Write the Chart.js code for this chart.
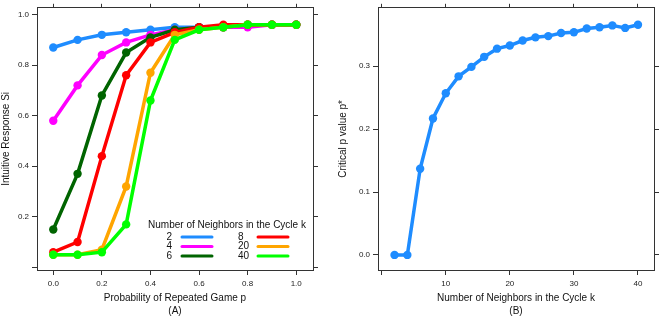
<!DOCTYPE html>
<html>
<head>
<meta charset="utf-8">
<script src="https://cdn.jsdelivr.net/npm/chart.js@4/dist/chart.umd.min.js"></script>
<style>
  html, body { margin: 0; padding: 0; background: #fff; }
  #wrap { position: relative; width: 660px; height: 316px; }
  .cv { position: absolute; top: 0; width: 330px; height: 316px; }
</style>
</head>
<body>
<div id="wrap">
  <div class="cv" style="left:0"><canvas id="chartA" width="330" height="316"></canvas></div>
  <div class="cv" style="left:330px"><canvas id="chartB" width="330" height="316"></canvas></div>
</div>
<script>
// ---- Panel (A) data ----
const pValues = [0.0, 0.1, 0.2, 0.3, 0.4, 0.5, 0.6, 0.7, 0.8, 0.9, 1.0];
const neighborLabels = ['2', '4', '6', '8', '20', '40'];
const seriesK2  = [0.87, 0.90, 0.92, 0.93, 0.94, 0.95, 0.95, 0.95, 0.96, 0.96, 0.96];
const seriesK4  = [0.58, 0.72, 0.84, 0.89, 0.92, 0.94, 0.95, 0.95, 0.95, 0.96, 0.96];
const seriesK6  = [0.15, 0.37, 0.68, 0.85, 0.91, 0.94, 0.95, 0.95, 0.96, 0.96, 0.96];
const seriesK8  = [0.06, 0.10, 0.44, 0.76, 0.89, 0.93, 0.95, 0.96, 0.96, 0.96, 0.96];
const seriesK20 = [0.05, 0.05, 0.07, 0.32, 0.77, 0.92, 0.94, 0.95, 0.96, 0.96, 0.96];
const seriesK40 = [0.05, 0.05, 0.06, 0.17, 0.66, 0.90, 0.94, 0.95, 0.96, 0.96, 0.96];
const xTicksA = [0, 0.2, 0.4, 0.6, 0.8, 1.0];
const yTicksA = [0, 0.2, 0.4, 0.6, 0.8, 1.0];

// ---- Panel (B) data ----
const kValues = [2, 4, 6, 8, 10, 12, 14, 16, 18, 20, 22, 24, 26, 28, 30, 32, 34, 36, 38, 40];
const criticalP = [0.0, 0.0, 0.137, 0.217, 0.257, 0.284, 0.299, 0.315, 0.328, 0.333,
                   0.341, 0.346, 0.348, 0.353, 0.354, 0.360, 0.362, 0.365, 0.361, 0.366];
const xTicksB = [0, 10, 20, 30, 40];
const yTicksB = [0, 0.1, 0.2, 0.3];

const colors = ['#1E8CFF', '#FF00FF', '#006400', '#FF0000', '#FFA500', '#00FF00'];
const FONT = '"Liberation Sans", Arial, Helvetica, sans-serif';
const AXIS = '#333333';

function toPts(xs, ys) { return xs.map((x, i) => ({ x: x, y: ys[i] })); }

function setTicks(list) {
  return function (scale) { scale.ticks = list.map(v => ({ value: v })); };
}

function makeScales(cfg) {
  const tickFont = { family: FONT, size: 8 };
  const titleFont = { family: FONT, size: 10, lineHeight: 1.3 };
  const gridCommon = { drawOnChartArea: false, drawTicks: true, tickLength: 5, color: AXIS, lineWidth: 1 };
  return {
    x: {
      type: 'linear', position: 'bottom', min: cfg.xmin, max: cfg.xmax,
      afterBuildTicks: setTicks(cfg.xticks),
      afterFit: s => { s.height = cfg.bottom; },
      grid: gridCommon,
      border: { display: true, color: AXIS, width: 1 },
      ticks: { font: tickFont, color: '#222', padding: 4, maxRotation: 0, autoSkip: false,
               callback: cfg.xfmt },
      title: { display: true, text: cfg.xtitle, font: titleFont, color: '#111', padding: { top: 0, bottom: -1.5 } }
    },
    x2: {
      type: 'linear', position: 'top', min: cfg.xmin, max: cfg.xmax,
      afterBuildTicks: setTicks(cfg.xticks),
      afterFit: s => { s.height = 4; },
      grid: Object.assign({}, gridCommon, { tickLength: 4 }),
      border: { display: true, color: AXIS, width: 1 },
      ticks: { display: false }
    },
    y: {
      type: 'linear', position: 'left', min: cfg.ymin, max: cfg.ymax,
      afterBuildTicks: setTicks(cfg.yticks),
      afterFit: s => { s.width = cfg.left; },
      grid: gridCommon,
      border: { display: true, color: AXIS, width: 1 },
      ticks: { font: tickFont, color: '#222', padding: 3, autoSkip: false, callback: cfg.yfmt },
      title: { display: true, text: cfg.ytitle, font: titleFont, color: '#111', padding: { top: cfg.ytitlePad, bottom: 0 } }
    },
    y2: {
      type: 'linear', position: 'right', min: cfg.ymin, max: cfg.ymax,
      afterBuildTicks: setTicks(cfg.yticks),
      afterFit: s => { s.width = cfg.right; },
      grid: gridCommon,
      border: { display: true, color: AXIS, width: 1 },
      ticks: { display: false }
    }
  };
}

// Legend drawn inside panel A
const legendPlugin = {
  id: 'innerLegend',
  afterDatasetsDraw(chart) {
    const ctx = chart.ctx;
    ctx.save();
    ctx.fillStyle = '#111';
    ctx.font = '10px ' + FONT;
    ctx.textBaseline = 'middle';
    ctx.textAlign = 'center';
    ctx.fillText('Number of Neighbors in the Cycle k', 227, 225);
    ctx.textAlign = 'left';
    const rows = [237, 246.5, 256];
    const cols = [{ lx: 166.5, sx: 182, ex: 212 }, { lx: 238, sx: 258, ex: 288 }];
    neighborLabels.forEach((lab, i) => {
      const c = cols[Math.floor(i / 3)];
      const y = rows[i % 3];
      ctx.fillStyle = '#111';
      ctx.fillText(lab, c.lx, y);
      ctx.strokeStyle = colors[i];
      ctx.lineWidth = 3;
      ctx.lineCap = 'round';
      ctx.beginPath();
      ctx.moveTo(c.sx, y);
      ctx.lineTo(c.ex, y);
      ctx.stroke();
    });
    ctx.restore();
  }
};

const seriesA = [seriesK2, seriesK4, seriesK6, seriesK8, seriesK20, seriesK40];

new Chart(document.getElementById('chartA'), {
  type: 'line',
  data: {
    datasets: seriesA.map((s, i) => ({
      label: 'k = ' + neighborLabels[i],
      data: toPts(pValues, s),
      borderColor: colors[i],
      backgroundColor: colors[i],
      borderWidth: 3.5,
      pointRadius: 4.2,
      pointBorderWidth: 0,
      pointHoverRadius: 4.2,
      tension: 0,
      fill: false,
      order: 5 - i
    }))
  },
  options: {
    responsive: false,
    animation: false,
    events: [],
    layout: { padding: 0 },
    plugins: { legend: { display: false }, tooltip: { enabled: false } },
    scales: makeScales({
      xmin: -0.067, xmax: 1.069, ymin: -0.0105, ymax: 1.027,
      xticks: xTicksA, yticks: yTicksA,
      bottom: 46, left: 37, right: 17,
      xfmt: v => v.toFixed(1),
      yfmt: v => (v === 0 ? '' : v.toFixed(1)),
      xtitle: ['Probability of Repeated Game p', '(A)'],
      ytitle: 'Intuitive Response Si',
      ytitlePad: -0.5
    })
  },
  plugins: [legendPlugin]
});

new Chart(document.getElementById('chartB'), {
  type: 'line',
  data: {
    datasets: [{
      label: 'Critical p value',
      data: toPts(kValues, criticalP),
      borderColor: colors[0],
      backgroundColor: colors[0],
      borderWidth: 3.5,
      pointRadius: 4.2,
      pointBorderWidth: 0,
      pointHoverRadius: 4.2,
      tension: 0,
      fill: false
    }]
  },
  options: {
    responsive: false,
    animation: false,
    events: [],
    layout: { padding: 0 },
    plugins: { legend: { display: false }, tooltip: { enabled: false } },
    scales: makeScales({
      xmin: -0.58, xmax: 42.5, ymin: -0.024, ymax: 0.393,
      xticks: xTicksB, yticks: yTicksB,
      bottom: 46, left: 48, right: 6,
      xfmt: v => (v === 0 ? '' : String(v)),
      yfmt: v => v.toFixed(1),
      xtitle: ['Number of Neighbors in the Cycle k', '(B)'],
      ytitle: 'Critical p value p*',
      ytitlePad: 6.5
    })
  }
});
</script>
</body>
</html>
